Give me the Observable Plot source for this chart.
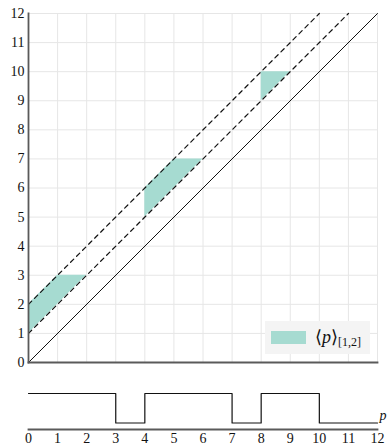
<!DOCTYPE html>
<html>
<head>
<meta charset="utf-8">
<script src="https://cdn.jsdelivr.net/npm/d3@7"></script>
<script src="https://cdn.jsdelivr.net/npm/@observablehq/plot@0.6"></script>
<style>
  html, body { margin: 0; padding: 0; background: #fff; }
  #wrap { position: relative; width: 387px; height: 446px; overflow: hidden; }
  #wrap svg { display: block; }
  #wrap svg, #wrap svg text, #legend {
    font-family: "Liberation Serif", "DejaVu Serif", "Times New Roman", serif !important;
  }
  #legend {
    position: absolute; left: 265px; top: 321px; width: 105px; height: 33px;
    background: #f4f4f4; color: #111;
  }
  #legend .sw { position: absolute; left: 6px; top: 10px; width: 35px; height: 13px; background: #a6dbd1; }
  #legend .tx { position: absolute; left: 50px; top: 5px; font-size: 18px; white-space: nowrap; }
  #legend .tx sub { font-size: 12px; vertical-align: -3px; }
</style>
</head>
<body>
<div id="wrap"></div>
<script>
const ticks = [0, 1, 2, 3, 4, 5, 6, 7, 8, 9, 10, 11, 12];
// diagonal reference lines: endpoints
const solidX = [0, 12], solidY = [0, 12];
const dash1X = [0, 11], dash1Y = [1, 12];
const dash2X = [0, 10], dash2Y = [2, 12];
// shaded band pieces
const bandX    = [0, 1, 2, 4, 5, 6, 8, 9];
const bandLow  = [1, 2, 3, 5, 6, 7, 9, 10];
const bandHigh = [2, 3, 3, 6, 7, 7, 10, 10];
const bandGrp  = [0, 0, 0, 1, 1, 1, 2, 2];
// step signal p
const stepX = [0, 3, 4, 7, 8, 10, 12];
const stepY = [1, 0, 1, 0, 1, 0, 0];
const legendLabel = "p";
const stepLabel = "p";

const FONT = '"Liberation Serif", "DejaVu Serif", serif';
const teal = "#a6dbd1";
const axisColor = "#5a5a5a";
const gridColor = "#e6e6e6";

const pts = (xs, ys) => xs.map((x, i) => ({x, y: ys[i]}));
const band = bandX.map((x, i) => ({x, lo: bandLow[i], hi: bandHigh[i], g: bandGrp[i]}));
const step = pts(stepX, stepY);

const mainPlot = Plot.plot({
  width: 387, height: 375,
  marginTop: 13, marginBottom: 13, marginLeft: 28, marginRight: 10,
  style: {fontFamily: FONT, fontSize: "14px", color: "#111", background: "white"},
  x: {domain: [0, 12], axis: null},
  y: {domain: [0, 12], axis: null},
  marks: [
    Plot.ruleX(ticks, {stroke: gridColor, strokeWidth: 1}),
    Plot.ruleY(ticks, {stroke: gridColor, strokeWidth: 1}),
    Plot.areaY(band, {x: "x", y1: "lo", y2: "hi", z: "g", fill: teal, fillOpacity: 1}),
    Plot.line(pts(solidX, solidY), {x: "x", y: "y", stroke: "#111", strokeWidth: 1}),
    Plot.line(pts(dash1X, dash1Y), {x: "x", y: "y", stroke: "#111", strokeWidth: 1.2, strokeDasharray: "4.5,4"}),
    Plot.line(pts(dash2X, dash2Y), {x: "x", y: "y", stroke: "#111", strokeWidth: 1.2, strokeDasharray: "4.5,4"}),
    Plot.frame({anchor: "left", stroke: axisColor, strokeWidth: 1.8}),
    Plot.frame({anchor: "bottom", stroke: axisColor, strokeWidth: 1.8}),
    Plot.axisY(ticks, {tickSize: 0, tickPadding: 4, label: null, fontSize: 14})
  ]
});

const stepPlot = Plot.plot({
  width: 387, height: 71,
  marginTop: 18, marginBottom: 17, marginLeft: 28, marginRight: 10,
  style: {fontFamily: FONT, fontSize: "14px", color: "#111", background: "white", overflow: "visible"},
  x: {domain: [0, 12], axis: null},
  y: {domain: [0, 1], axis: null, insetBottom: 6.5},
  marks: [
    Plot.frame({anchor: "bottom", stroke: axisColor, strokeWidth: 1.8}),
    Plot.line(step, {x: "x", y: "y", curve: "step-after", stroke: "#111", strokeWidth: 1.2}),
    Plot.text([stepLabel], {x: () => 12, y: () => 0, dx: 2, dy: -7, text: d => d, textAnchor: "start", fontStyle: "italic", fontSize: 14}),
    Plot.axisX(ticks, {tickSize: 0, tickPadding: 4, label: null, fontSize: 14})
  ]
});

const wrap = document.getElementById("wrap");
wrap.appendChild(mainPlot);
wrap.appendChild(stepPlot);

const lg = document.createElement("div");
lg.id = "legend";
lg.innerHTML = `<div class="sw"></div><div class="tx">⟨<i>${legendLabel}</i>⟩<sub>[1,2]</sub></div>`;
wrap.appendChild(lg);
</script>
</body>
</html>
